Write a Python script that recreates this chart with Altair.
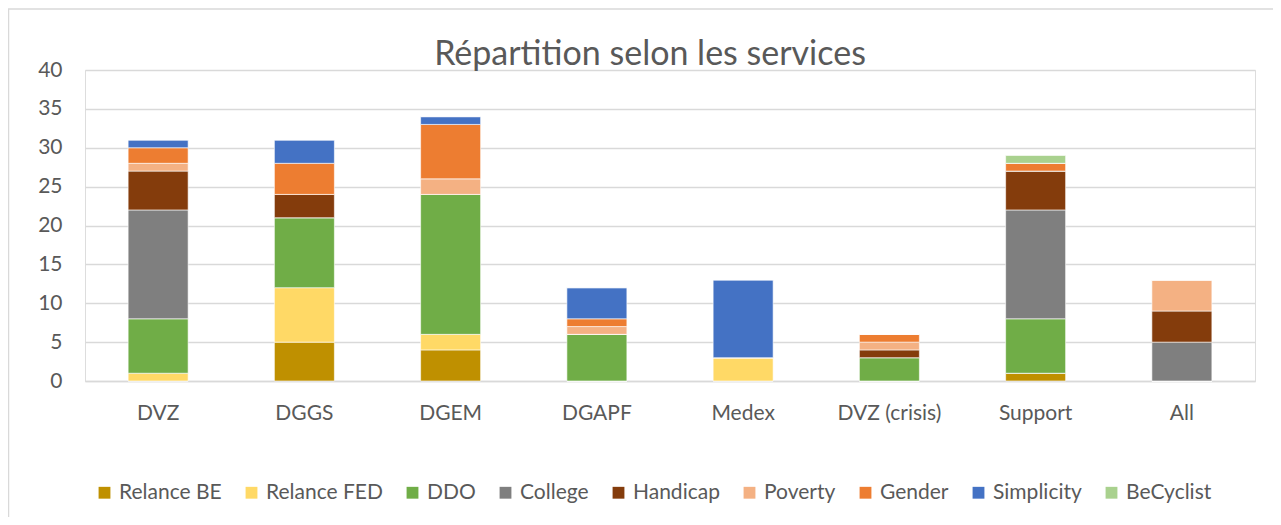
import altair as alt
import pandas as pd

services = ["DVZ", "DGGS", "DGEM", "DGAPF", "Medex", "DVZ (crisis)", "Support", "All"]
series = ["Relance BE", "Relance FED", "DDO", "College", "Handicap", "Poverty", "Gender", "Simplicity", "BeCyclist"]
colors = ["#BF9000", "#FFD966", "#70AD47", "#7F7F7F", "#843C0C", "#F4B183", "#ED7D31", "#4472C4", "#A9D18E"]
title_text = ["Répartition selon les services"]

relance_be  = [0, 5, 4, 0, 0, 0, 1, 0]
relance_fed = [1, 7, 2, 0, 3, 0, 0, 0]
ddo         = [7, 9, 18, 6, 0, 3, 7, 0]
college     = [14, 0, 0, 0, 0, 0, 14, 5]
handicap    = [5, 3, 0, 0, 0, 1, 5, 4]
poverty     = [1, 0, 2, 1, 0, 1, 0, 4]
gender      = [2, 4, 7, 1, 0, 1, 1, 0]
simplicity  = [1, 3, 1, 4, 10, 0, 0, 0]
becyclist   = [0, 0, 0, 0, 0, 0, 1, 0]

values = [relance_be, relance_fed, ddo, college, handicap, poverty, gender, simplicity, becyclist]

rows = []
for si, (name, vals) in enumerate(zip(series, values)):
    for svc, v in zip(services, vals):
        rows.append({"service": svc, "series": name, "value": v, "order": si})
df = pd.DataFrame(rows)

FONT = "Lato"
TXT = "#595959"
FS = 21

bars = alt.Chart(df).mark_bar(size=60, stroke="white", strokeWidth=0.6).encode(
    x=alt.X("service:N", sort=services, title=None,
            axis=alt.Axis(labelAngle=0, ticks=False, domainColor="#d9d9d9", domainWidth=1.3,
                          labelFontSize=FS, labelColor=TXT, labelFont=FONT, labelPadding=21, grid=False)),
    y=alt.Y("value:Q", stack="zero", title=None,
            scale=alt.Scale(domain=[0, 40], nice=False),
            axis=alt.Axis(values=[0, 5, 10, 15, 20, 25, 30, 35, 40], ticks=False, domain=False,
                          gridColor="#d9d9d9", gridWidth=1.3, labelFontSize=FS, labelColor=TXT,
                          labelFont=FONT, labelPadding=23)),
    color=alt.Color("series:N", sort=series,
                    scale=alt.Scale(domain=series, range=colors),
                    legend=alt.Legend(title=None, orient="none", direction="horizontal",
                                      legendX=9, legendY=412, symbolType="square", symbolSize=140,
                                      symbolStrokeWidth=0, labelFontSize=FS, labelColor=TXT,
                                      labelFont=FONT, columnPadding=19, labelOffset=4)),
    order=alt.Order("order:Q", sort="ascending"),
)

border = alt.Chart(pd.DataFrame({"a": [0]})).mark_rect(
    fill=None, stroke="#d9d9d9", strokeWidth=1.5, clip=False
).encode(x=alt.value(-76.5), x2=alt.value(1400), y=alt.value(-61), y2=alt.value(700))

title = alt.Chart(pd.DataFrame({"t": title_text})).mark_text(
    font=FONT, fontSize=34, color=TXT, align="center", baseline="alphabetic", clip=False
).encode(text="t:N", x=alt.value(565), y=alt.value(-5))

chart = alt.layer(border, bars, title).properties(
    width=1170, height=311,
    autosize=alt.AutoSizeParams(type="none"),
    padding={"left": 77, "top": 62, "right": 18, "bottom": 136},
).configure_view(stroke=None).configure(background="white")

chart.save("out.html", embed_options={"renderer": "svg", "actions": False})
